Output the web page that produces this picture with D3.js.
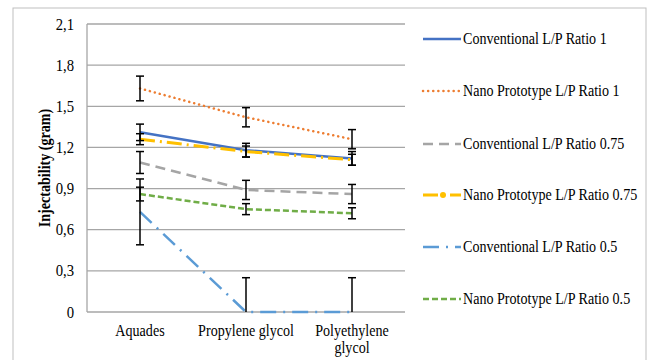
<!DOCTYPE html>
<html>
<head>
<meta charset="utf-8">
<script src="https://cdn.jsdelivr.net/npm/d3@7"></script>
<style>
  body { margin: 0; background: #fff; }
  svg text { font-family: "Liberation Serif", "Times New Roman", serif; fill: #000; }
</style>
</head>
<body>
<svg id="chart"></svg>
<script>
const categories = ["Aquades", "Propylene glycol", "Polyethylene glycol"];
const yTicks = [0, 0.3, 0.6, 0.9, 1.2, 1.5, 1.8, 2.1];

const seriesNames = [
  "Conventional L/P Ratio 1",
  "Nano Prototype L/P Ratio 1",
  "Conventional L/P Ratio 0.75",
  "Nano Prototype L/P Ratio 0.75",
  "Conventional L/P Ratio 0.5",
  "Nano Prototype L/P Ratio 0.5"
];
const conv1 = [1.31, 1.18, 1.12];
const nano1 = [1.63, 1.42, 1.26];
const conv075 = [1.09, 0.89, 0.86];
const nano075 = [1.26, 1.17, 1.11];
const conv05 = [0.73, 0, 0];
const nano05 = [0.86, 0.75, 0.72];

const conv1Err = [0.06, 0.05, 0.05];
const nano1Err = [0.09, 0.07, 0.07];
const conv075Err = [0.08, 0.07, 0.07];
const nano075Err = [0.04, 0.04, 0.04];
const conv05Err = [0.24, 0.25, 0.25];
const nano05Err = [0.05, 0.04, 0.04];

const seriesValues = [conv1, nano1, conv075, nano075, conv05, nano05];
const seriesErrors = [conv1Err, nano1Err, conv075Err, nano075Err, conv05Err, nano05Err];

const colors = ["#4472C4", "#ED7D31", "#A5A5A5", "#FFC000", "#5B9BD5", "#70AD47"];
const dashes = ["none", "0.1,5", "10,6", "15,5,2,5", "16,7,2,7", "6,3"];
const caps = ["butt", "round", "butt", "butt", "butt", "butt"];
const widths = [2.5, 2.5, 2.5, 3, 2.5, 2.5];

const width = 648, height = 360;
const margin = {top: 24, left: 87, right: 243, bottom: 48};
const sx = 0.88; // the original text is set in a narrow serif

const svg = d3.select("#chart").attr("width", width).attr("height", height);

svg.append("rect")
  .attr("x", 13).attr("y", 8)
  .attr("width", 633).attr("height", 360)
  .attr("fill", "none").attr("stroke", "#bfbfbf").attr("stroke-width", 1);

const x = d3.scaleBand()
  .domain(categories)
  .range([margin.left, width - margin.right]);

const y = d3.scaleLinear()
  .domain([0, 2.1])
  .range([height - margin.bottom, margin.top]);

// grid
svg.append("g")
  .selectAll("line")
  .data(yTicks)
  .join("line")
  .attr("x1", margin.left).attr("x2", width - margin.right)
  .attr("y1", d => y(d)).attr("y2", d => y(d))
  .attr("stroke", "#a6a6a6").attr("stroke-width", 1.3);

svg.append("line")
  .attr("x1", margin.left).attr("x2", margin.left)
  .attr("y1", y(0)).attr("y2", y(2.1))
  .attr("stroke", "#a6a6a6").attr("stroke-width", 1.3);

// y axis
const yAxis = svg.append("g")
  .attr("transform", `translate(${margin.left},0)`)
  .call(d3.axisLeft(y).tickValues(yTicks).tickSize(0).tickPadding(13)
    .tickFormat(d => d === 0 ? "0" : d3.format(".1f")(d).replace(".", ",")));
yAxis.attr("font-family", null);
yAxis.select(".domain").remove();
yAxis.selectAll("text")
  .attr("font-size", 16)
  .attr("x", -13 / 0.92)
  .attr("transform", "scale(0.92,1)");

// x axis labels
const xAxis = svg.append("g")
  .attr("transform", `translate(0,${y(0)})`)
  .call(d3.axisBottom(x).tickSize(0).tickPadding(0));
xAxis.attr("font-family", null);
xAxis.select(".domain").remove();
xAxis.selectAll("text").remove();
xAxis.selectAll(".tick").each(function(d) {
  const t = d3.select(this).append("text")
    .attr("text-anchor", "middle").attr("font-size", 16)
    .attr("transform", `scale(${sx},1)`);
  const lines = d === "Polyethylene glycol" ? ["Polyethylene", "glycol"] : [d];
  lines.forEach((l, i) => t.append("tspan").attr("x", 0).attr("y", 24 + i * 17).text(l));
});

// axis title
svg.append("text")
  .attr("transform", `translate(50,${y(1.05)}) rotate(-90) scale(${sx},1)`)
  .attr("text-anchor", "middle")
  .attr("font-size", 16).attr("font-weight", "bold")
  .text("Injectability (gram)");

const cx = c => x(c) + x.bandwidth() / 2;
const line = d3.line().x((d, i) => cx(categories[i])).y(d => y(d));

// lines
seriesValues.forEach((vals, s) => {
  svg.append("path")
    .datum(vals)
    .attr("d", line)
    .attr("fill", "none")
    .attr("stroke", colors[s])
    .attr("stroke-width", widths[s])
    .attr("stroke-dasharray", dashes[s])
    .attr("stroke-linecap", caps[s]);
});

// error bars
seriesValues.forEach((vals, s) => {
  const g = svg.append("g").attr("stroke", "#000").attr("stroke-width", 1.5);
  vals.forEach((v, i) => {
    const e = seriesErrors[s][i];
    const lo = Math.max(0, v - e), hi = v + e;
    const px = cx(categories[i]);
    g.append("line").attr("x1", px).attr("x2", px).attr("y1", y(lo)).attr("y2", y(hi));
    g.append("line").attr("x1", px - 4).attr("x2", px + 4).attr("y1", y(hi)).attr("y2", y(hi));
    if (v - e > 0) {
      g.append("line").attr("x1", px - 4).attr("x2", px + 4).attr("y1", y(lo)).attr("y2", y(lo));
    }
  });
});

// legend
const legendY = [39, 91, 144, 195, 247, 299];
const legend = svg.append("g");
seriesNames.forEach((name, s) => {
  const g = legend.append("g").attr("transform", `translate(423,${legendY[s]})`);
  g.append("line")
    .attr("x1", 0).attr("x2", 38).attr("y1", 0).attr("y2", 0)
    .attr("stroke", colors[s]).attr("stroke-width", widths[s])
    .attr("stroke-dasharray", dashes[s])
    .attr("stroke-linecap", caps[s]);
  if (s === 3) {
    g.append("circle").attr("cx", 20).attr("cy", 0).attr("r", 3).attr("fill", colors[s]);
  }
  g.append("text")
    .attr("transform", `translate(40,5) scale(${sx},1)`)
    .attr("font-size", 16)
    .text(name);
});
</script>
</body>
</html>
